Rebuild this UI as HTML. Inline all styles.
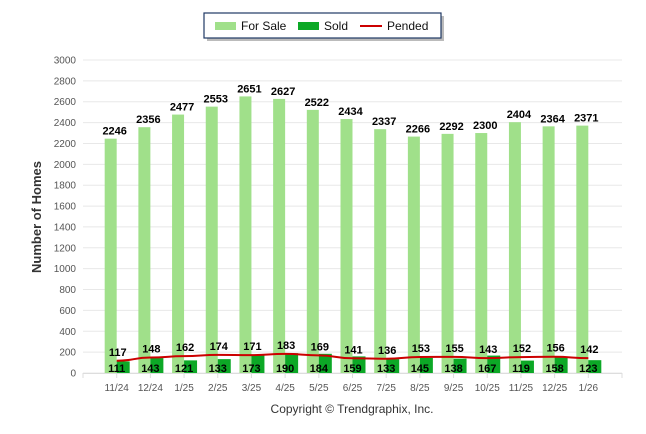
<!DOCTYPE html>
<html><head><meta charset="utf-8"><style>
body{margin:0;background:#fff;}
svg{display:block;font-family:"Liberation Sans",Arial,sans-serif;}
</style></head><body>
<svg width="646" height="434" xmlns="http://www.w3.org/2000/svg">
<rect x="207" y="16" width="237" height="25" fill="#bbb"/>
<rect x="204" y="13" width="237" height="25" fill="#fff" stroke="#1f3864" stroke-width="1.2"/>
<rect x="215" y="22" width="21" height="8" fill="#a0e08a"/>
<text x="241" y="30" font-size="12" fill="#111">For Sale</text>
<rect x="298" y="22" width="21" height="8" fill="#0ca826"/>
<text x="324" y="30" font-size="12" fill="#111">Sold</text>
<line x1="360" y1="26" x2="382" y2="26" stroke="#cc0000" stroke-width="2"/>
<text x="387" y="30" font-size="12" fill="#111">Pended</text>
<text transform="translate(41,217) rotate(-90)" text-anchor="middle" font-size="13" font-weight="bold" fill="#333">Number of Homes</text>
<text x="352" y="413" text-anchor="middle" font-size="12" fill="#333">Copyright © Trendgraphix, Inc.</text>
</svg>
<script>
const ns="http://www.w3.org/2000/svg";
const svg=document.querySelector('svg');
function el(t,a,txt){const e=document.createElementNS(ns,t);for(const k in a)e.setAttribute(k,a[k]);if(txt!==undefined)e.textContent=txt;svg.appendChild(e);return e;}
const y0=373,s=313/3000;
for(let v=0;v<=3000;v+=200){const y=y0-v*s;el('line',{x1:83,x2:622,y1:y,y2:y,stroke:'#e8e8e8','stroke-width':1});el('text',{x:76,y:y+3.5,'text-anchor':'end','font-size':10,fill:'#555'},v);}
el('line',{x1:83,x2:622,y1:y0+0.5,y2:y0+0.5,stroke:'#ddd'});
const labs=['11/24','12/24','1/25','2/25','3/25','4/25','5/25','6/25','7/25','8/25','9/25','10/25','11/25','12/25','1/26'];
const fs=[2246,2356,2477,2553,2651,2627,2522,2434,2337,2266,2292,2300,2404,2364,2371];
const so=[111,143,121,133,173,190,184,159,133,145,138,167,119,158,123];
const pe=[117,148,162,174,171,183,169,141,136,153,155,143,152,156,142];
const w=539/16;
for(let i=0;i<=16;i++){el('line',{x1:83+w*i,x2:83+w*i,y1:y0,y2:y0+5,stroke:'#ddd'});}
let pts=[];
for(let i=0;i<15;i++){const cx=83+w*(i+1);
el('rect',{x:cx-12,y:y0-fs[i]*s,width:12,height:fs[i]*s,fill:'#a0e08a'});
el('rect',{x:cx,y:y0-so[i]*s,width:13,height:so[i]*s,fill:'#0ca826'});
pts.push([cx,y0-pe[i]*s]);
el('text',{x:cx-2,y:y0-fs[i]*s-4,'text-anchor':'middle','font-size':11,'font-weight':'bold',fill:'#000'},fs[i]);
el('text',{x:cx,y:y0-1,'text-anchor':'middle','font-size':11,'font-weight':'bold',fill:'#000'},so[i]);
el('text',{x:cx,y:y0+18,'text-anchor':'middle','font-size':10,fill:'#555'},labs[i]);}
let d='M'+pts[0][0]+','+pts[0][1];
for(let i=1;i<pts.length;i++){const p0=pts[i-1],p1=pts[i];const mx=(p0[0]+p1[0])/2;d+=` C${mx},${p0[1]} ${mx},${p1[1]} ${p1[0]},${p1[1]}`;}
el('path',{d:d,fill:'none',stroke:'#cc0000','stroke-width':2});
for(let i=0;i<15;i++){el('text',{x:pts[i][0]+1,y:pts[i][1]-5,'text-anchor':'middle','font-size':11,'font-weight':'bold',fill:'#000'},pe[i]);}
</script>
</body></html>
